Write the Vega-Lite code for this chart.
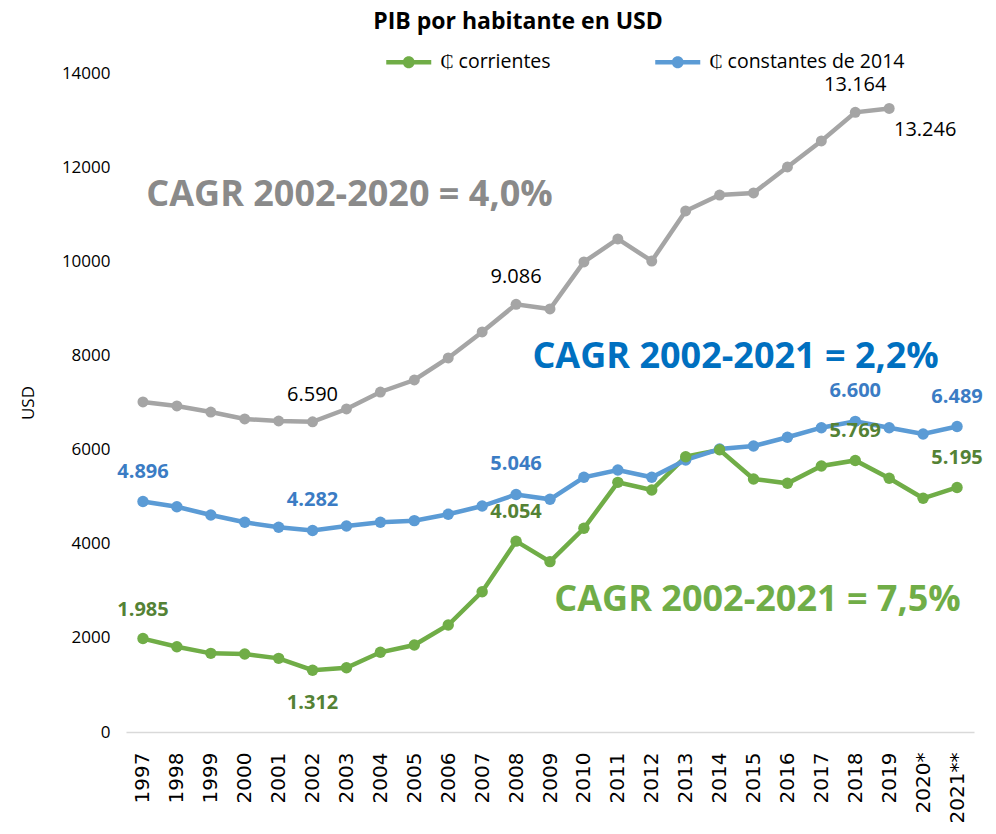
{
  "$schema": "https://vega.github.io/schema/vega-lite/v6.json",
  "width": 848,
  "height": 659,
  "autosize": {"type": "none"},
  "padding": {"left": 126, "top": 73, "right": 22, "bottom": 102},
  "background": "white",
  "config": {
    "view": {"stroke": null},
    "locale": {"number": {"decimal": ",", "thousands": ".", "grouping": [3], "currency": ["", ""]}},
    "font": "Open Sans"
  },
  "title": {
    "text": "PIB por habitante en USD",
    "font": "Open Sans",
    "fontSize": 23,
    "fontWeight": "bold",
    "color": "#000000",
    "anchor": "middle",
    "dx": -32,
    "offset": 18
  },
  "datasets": {
    "pib": [
      {"year": "1997", "serie": "USD", "value": 7011, "lab": 0},
      {"year": "1998", "serie": "USD", "value": 6926, "lab": 0},
      {"year": "1999", "serie": "USD", "value": 6798, "lab": 0},
      {"year": "2000", "serie": "USD", "value": 6650, "lab": 0},
      {"year": "2001", "serie": "USD", "value": 6607, "lab": 0},
      {"year": "2002", "serie": "USD", "value": 6590, "lab": 1},
      {"year": "2003", "serie": "USD", "value": 6862, "lab": 0},
      {"year": "2004", "serie": "USD", "value": 7223, "lab": 0},
      {"year": "2005", "serie": "USD", "value": 7478, "lab": 0},
      {"year": "2006", "serie": "USD", "value": 7946, "lab": 0},
      {"year": "2007", "serie": "USD", "value": 8498, "lab": 0},
      {"year": "2008", "serie": "USD", "value": 9086, "lab": 1},
      {"year": "2009", "serie": "USD", "value": 8987, "lab": 0},
      {"year": "2010", "serie": "USD", "value": 9985, "lab": 0},
      {"year": "2011", "serie": "USD", "value": 10474, "lab": 0},
      {"year": "2012", "serie": "USD", "value": 10006, "lab": 0},
      {"year": "2013", "serie": "USD", "value": 11069, "lab": 0},
      {"year": "2014", "serie": "USD", "value": 11408, "lab": 0},
      {"year": "2015", "serie": "USD", "value": 11451, "lab": 0},
      {"year": "2016", "serie": "USD", "value": 12003, "lab": 0},
      {"year": "2017", "serie": "USD", "value": 12556, "lab": 0},
      {"year": "2018", "serie": "USD", "value": 13164, "lab": 1},
      {"year": "2019", "serie": "USD", "value": 13246, "lab": 2},
      {"year": "1997", "serie": "₵ constantes de 2014", "value": 4896, "lab": 1},
      {"year": "1998", "serie": "₵ constantes de 2014", "value": 4786, "lab": 0},
      {"year": "1999", "serie": "₵ constantes de 2014", "value": 4610, "lab": 0},
      {"year": "2000", "serie": "₵ constantes de 2014", "value": 4455, "lab": 0},
      {"year": "2001", "serie": "₵ constantes de 2014", "value": 4349, "lab": 0},
      {"year": "2002", "serie": "₵ constantes de 2014", "value": 4282, "lab": 1},
      {"year": "2003", "serie": "₵ constantes de 2014", "value": 4376, "lab": 0},
      {"year": "2004", "serie": "₵ constantes de 2014", "value": 4455, "lab": 0},
      {"year": "2005", "serie": "₵ constantes de 2014", "value": 4490, "lab": 0},
      {"year": "2006", "serie": "₵ constantes de 2014", "value": 4625, "lab": 0},
      {"year": "2007", "serie": "₵ constantes de 2014", "value": 4801, "lab": 0},
      {"year": "2008", "serie": "₵ constantes de 2014", "value": 5046, "lab": 1},
      {"year": "2009", "serie": "₵ constantes de 2014", "value": 4943, "lab": 0},
      {"year": "2010", "serie": "₵ constantes de 2014", "value": 5411, "lab": 0},
      {"year": "2011", "serie": "₵ constantes de 2014", "value": 5566, "lab": 0},
      {"year": "2012", "serie": "₵ constantes de 2014", "value": 5411, "lab": 0},
      {"year": "2013", "serie": "₵ constantes de 2014", "value": 5779, "lab": 0},
      {"year": "2014", "serie": "₵ constantes de 2014", "value": 6012, "lab": 0},
      {"year": "2015", "serie": "₵ constantes de 2014", "value": 6076, "lab": 0},
      {"year": "2016", "serie": "₵ constantes de 2014", "value": 6261, "lab": 0},
      {"year": "2017", "serie": "₵ constantes de 2014", "value": 6465, "lab": 0},
      {"year": "2018", "serie": "₵ constantes de 2014", "value": 6600, "lab": 1},
      {"year": "2019", "serie": "₵ constantes de 2014", "value": 6465, "lab": 0},
      {"year": "2020*", "serie": "₵ constantes de 2014", "value": 6331, "lab": 0},
      {"year": "2021**", "serie": "₵ constantes de 2014", "value": 6489, "lab": 1},
      {"year": "1997", "serie": "₵ corrientes", "value": 1985, "lab": 1},
      {"year": "1998", "serie": "₵ corrientes", "value": 1812, "lab": 0},
      {"year": "1999", "serie": "₵ corrientes", "value": 1671, "lab": 0},
      {"year": "2000", "serie": "₵ corrientes", "value": 1657, "lab": 0},
      {"year": "2001", "serie": "₵ corrientes", "value": 1565, "lab": 0},
      {"year": "2002", "serie": "₵ corrientes", "value": 1312, "lab": 2},
      {"year": "2003", "serie": "₵ corrientes", "value": 1366, "lab": 0},
      {"year": "2004", "serie": "₵ corrientes", "value": 1693, "lab": 0},
      {"year": "2005", "serie": "₵ corrientes", "value": 1848, "lab": 0},
      {"year": "2006", "serie": "₵ corrientes", "value": 2273, "lab": 0},
      {"year": "2007", "serie": "₵ corrientes", "value": 2981, "lab": 0},
      {"year": "2008", "serie": "₵ corrientes", "value": 4054, "lab": 1},
      {"year": "2009", "serie": "₵ corrientes", "value": 3619, "lab": 0},
      {"year": "2010", "serie": "₵ corrientes", "value": 4327, "lab": 0},
      {"year": "2011", "serie": "₵ corrientes", "value": 5304, "lab": 0},
      {"year": "2012", "serie": "₵ corrientes", "value": 5141, "lab": 0},
      {"year": "2013", "serie": "₵ corrientes", "value": 5849, "lab": 0},
      {"year": "2014", "serie": "₵ corrientes", "value": 5995, "lab": 0},
      {"year": "2015", "serie": "₵ corrientes", "value": 5375, "lab": 0},
      {"year": "2016", "serie": "₵ corrientes", "value": 5283, "lab": 0},
      {"year": "2017", "serie": "₵ corrientes", "value": 5651, "lab": 0},
      {"year": "2018", "serie": "₵ corrientes", "value": 5769, "lab": 1},
      {"year": "2019", "serie": "₵ corrientes", "value": 5390, "lab": 0},
      {"year": "2020*", "serie": "₵ corrientes", "value": 4965, "lab": 0},
      {"year": "2021**", "serie": "₵ corrientes", "value": 5195, "lab": 1}
    ],
    "cagr": [
      {"serie": "USD", "year": "2003", "value": 11408, "text": "CAGR 2002-2020 = 4,0%"},
      {"serie": "₵ constantes de 2014", "year": "2014", "value": 7967, "text": "CAGR 2002-2021 = 2,2%"},
      {"serie": "₵ corrientes", "year": "2015", "value": 2804, "text": "CAGR 2002-2021 = 7,5%"}
    ]
  },
  "data": {"name": "pib"},
  "encoding": {
    "x": {
      "field": "year",
      "type": "ordinal",
      "sort": null,
      "scale": {"type": "point", "padding": 0.5},
      "axis": {
        "title": null,
        "labelAngle": -90,
        "labelAlign": "right",
        "labelBaseline": "middle",
        "labelFont": "DejaVu Sans",
        "labelFontSize": 20,
        "labelColor": "#000000",
        "labelPadding": 20,
        "ticks": false,
        "domainColor": "#d9d9d9",
        "domainWidth": 1.5,
        "grid": false
      }
    },
    "y": {
      "field": "value",
      "type": "quantitative",
      "scale": {"domain": [0, 14000]},
      "axis": {
        "title": "USD",
        "titleFont": "Open Sans",
        "titleFontSize": 17,
        "titleFontWeight": "normal",
        "titleColor": "#000000",
        "titlePadding": 24,
        "values": [0, 2000, 4000, 6000, 8000, 10000, 12000, 14000],
        "format": "d",
        "labelFont": "Open Sans",
        "labelFontSize": 17,
        "labelColor": "#000000",
        "labelPadding": 16,
        "ticks": false,
        "domain": false,
        "grid": false
      }
    }
  },
  "layer": [
    {
      "transform": [{"filter": "datum.serie == 'USD'"}],
      "mark": {"type": "line", "color": "#a5a5a5", "strokeWidth": 4.5}
    },
    {
      "transform": [{"filter": "datum.serie == 'USD'"}],
      "mark": {"type": "circle", "color": "#a5a5a5", "size": 120, "opacity": 1}
    },
    {
      "transform": [{"filter": "datum.serie == '₵ corrientes'"}],
      "mark": {"type": "line", "color": "#70ad47", "strokeWidth": 4.5}
    },
    {
      "transform": [{"filter": "datum.serie == '₵ constantes de 2014'"}],
      "mark": {"type": "line", "color": "#5b9bd5", "strokeWidth": 4.5}
    },
    {
      "transform": [{"filter": "datum.serie != 'USD'"}],
      "mark": {"type": "circle", "size": 130, "opacity": 1},
      "encoding": {
        "color": {
          "field": "serie",
          "type": "nominal",
          "scale": {"domain": ["₵ corrientes", "₵ constantes de 2014"], "range": ["#70ad47", "#5b9bd5"]},
          "legend": {
            "title": null,
            "orient": "none",
            "legendX": 273,
            "legendY": -21,
            "direction": "horizontal",
            "symbolType": "M-4.5,-0.45H4.5V0.45H-4.5Z M-1.2,0A1.2,1.2,0,1,1,1.2,0A1.2,1.2,0,1,1,-1.2,0Z",
            "symbolSize": 100,
            "symbolStrokeWidth": 0,
            "symbolOpacity": 1,
            "labelOffset": 22,
            "labelFont": "Open Sans",
            "labelFontSize": 19.5,
            "labelLimit": 400,
            "labelColor": "#000000",
            "columnPadding": 104
          }
        }
      }
    },
    {
      "transform": [{"filter": "datum.serie == 'USD' && datum.lab == 1"}],
      "mark": {"type": "text", "dy": -27, "font": "Open Sans", "fontSize": 20, "color": "#000000"},
      "encoding": {"text": {"field": "value", "type": "quantitative", "format": ",.0f"}}
    },
    {
      "transform": [{"filter": "datum.serie == 'USD' && datum.lab == 2"}],
      "mark": {"type": "text", "dx": 36, "dy": 22, "font": "Open Sans", "fontSize": 20, "color": "#000000"},
      "encoding": {"text": {"field": "value", "type": "quantitative", "format": ",.0f"}}
    },
    {
      "transform": [{"filter": "datum.serie == '₵ constantes de 2014' && datum.lab == 1"}],
      "mark": {"type": "text", "dy": -30, "font": "Open Sans", "fontSize": 20, "fontWeight": "bold", "color": "#3b7cc4"},
      "encoding": {"text": {"field": "value", "type": "quantitative", "format": ",.0f"}}
    },
    {
      "transform": [{"filter": "datum.serie == '₵ corrientes' && datum.lab == 1"}],
      "mark": {"type": "text", "dy": -29, "font": "Open Sans", "fontSize": 20, "fontWeight": "bold", "color": "#548235"},
      "encoding": {"text": {"field": "value", "type": "quantitative", "format": ",.0f"}}
    },
    {
      "transform": [{"filter": "datum.serie == '₵ corrientes' && datum.lab == 2"}],
      "mark": {"type": "text", "dy": 33, "font": "Open Sans", "fontSize": 20, "fontWeight": "bold", "color": "#548235"},
      "encoding": {"text": {"field": "value", "type": "quantitative", "format": ",.0f"}}
    },
    {
      "data": {"name": "cagr"},
      "transform": [{"filter": "datum.serie == 'USD'"}],
      "mark": {"type": "text", "dx": 3, "font": "Open Sans", "fontSize": 36, "fontWeight": "bold", "color": "#8a8a8a", "baseline": "middle"},
      "encoding": {"text": {"field": "text"}}
    },
    {
      "data": {"name": "cagr"},
      "transform": [{"filter": "datum.serie == '₵ constantes de 2014'"}],
      "mark": {"type": "text", "dx": 16, "font": "Open Sans", "fontSize": 36, "fontWeight": "bold", "color": "#0070c0", "baseline": "middle"},
      "encoding": {"text": {"field": "text"}}
    },
    {
      "data": {"name": "cagr"},
      "transform": [{"filter": "datum.serie == '₵ corrientes'"}],
      "mark": {"type": "text", "dx": 4, "font": "Open Sans", "fontSize": 36, "fontWeight": "bold", "color": "#70ad47", "baseline": "middle"},
      "encoding": {"text": {"field": "text"}}
    }
  ]
}
